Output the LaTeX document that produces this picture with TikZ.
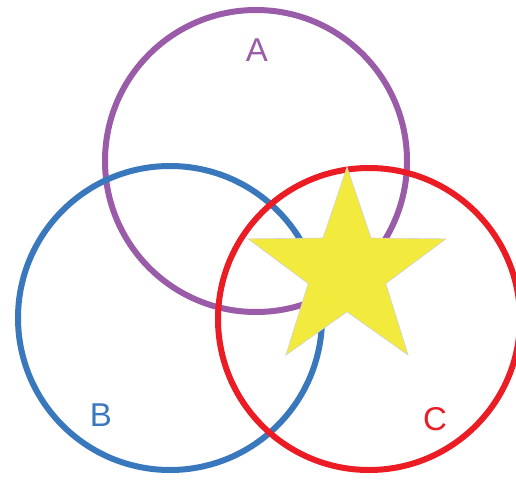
\documentclass[tikz,border=0pt]{standalone}
\usepackage{fontspec}
\setmainfont{Liberation Sans}
\usetikzlibrary{shapes.geometric}

\definecolor{setA}{HTML}{9A5BA8}
\definecolor{setB}{HTML}{3A78BE}
\definecolor{setC}{HTML}{EC1C24}
\definecolor{starYellow}{HTML}{F2EA3C}

\begin{document}
\begin{tikzpicture}[
  x=1pt, y=-1pt,
  ring/.style={line width=6pt},
  setlabel/.style={font=\fontsize{33}{33}\selectfont, inner sep=0pt},
  bigstar/.style={star, star points=5, star point ratio=2.55, minimum size=208pt,
    inner sep=0pt, fill=starYellow, draw=gray!35, line width=0.6pt}
]
\useasboundingbox (0,0) rectangle (516,479);

% the three sets
\draw[ring, setA] (256,161) circle[radius=151];
\draw[ring, setB] (170,318) circle[radius=152];
\draw[ring, setC] (369,319) circle[radius=151];

% star on the common part
\node[bigstar] (mark) at (347,271) {};

\node[setlabel, text=setA] (labA) at (257,50) {A};
\node[setlabel, text=setB] (labB) at (101,415) {B};
\node[setlabel, text=setC] (labC) at (435,419) {C};

\end{tikzpicture}
\end{document}
